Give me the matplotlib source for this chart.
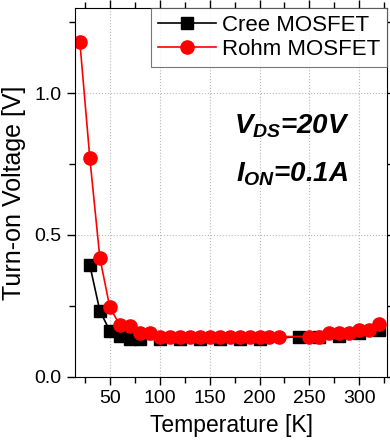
import matplotlib
matplotlib.use('Agg')
from matplotlib import pyplot as plt
from matplotlib.ticker import MultipleLocator

plt.rcParams['font.family'] = ['Liberation Sans', 'DejaVu Sans']
plt.rcParams['mathtext.fontset'] = 'custom'
plt.rcParams['mathtext.it'] = 'Liberation Sans:bold:italic'
plt.rcParams['mathtext.rm'] = 'Liberation Sans:bold'

# Cree MOSFET
cree_T = [30, 40, 50, 60, 70, 80, 100, 120, 140, 160, 180, 200, 240, 260, 280, 300, 320]
cree_V = [0.393, 0.233, 0.162, 0.145, 0.132, 0.132, 0.132, 0.132, 0.132, 0.132, 0.132, 0.132,
          0.142, 0.142, 0.143, 0.155, 0.166]

# Rohm MOSFET
rohm_T = [20, 30, 40, 50, 60, 70, 80, 90, 100, 110, 120, 130, 140, 150, 160, 170, 180, 190,
          200, 210, 220, 250, 260, 270, 280, 290, 300, 310, 320]
rohm_V = [1.18, 0.77, 0.42, 0.245, 0.183, 0.178, 0.155, 0.155, 0.142, 0.142, 0.142, 0.142,
          0.142, 0.142, 0.142, 0.142, 0.142, 0.142, 0.142, 0.142, 0.142, 0.142, 0.142,
          0.156, 0.156, 0.155, 0.166, 0.165, 0.187]


def main():
    fig = plt.figure(figsize=(3.9, 4.47), dpi=100)
    ax = fig.add_axes([0.192, 0.157, 0.801, 0.825])

    ax.plot(cree_T, cree_V, color='black', marker='s', markersize=8.5, lw=1.2,
            label='Cree MOSFET')
    ax.plot(rohm_T, rohm_V, color='red', marker='o', markersize=9.5, lw=1.2,
            label='Rohm MOSFET')

    ax.set_xlim(15, 328)
    ax.set_ylim(0, 1.3)
    ax.xaxis.set_minor_locator(MultipleLocator(25))
    ax.yaxis.set_minor_locator(MultipleLocator(0.25))
    ax.set_xticks([50, 100, 150, 200, 250, 300])
    ax.set_yticks([0.0, 0.5, 1.0])
    ax.set_yticklabels(['0.0', '0.5', '1.0'])

    # Origin-like ticks on all sides
    ax.tick_params(which='both', direction='out', top=True, right=True,
                   labeltop=False, labelright=False, labelsize=14, width=1)
    ax.tick_params(which='major', length=6)
    ax.tick_params(which='minor', length=4)

    ax.grid(True, which='major', color='#b8b8b8', linestyle=':', lw=0.8)

    ax.set_xlabel('Temperature [K]', fontsize=16.5, labelpad=5)
    ax.set_ylabel('Turn-on Voltage [V]', fontsize=18, labelpad=6)

    leg = ax.legend(loc='upper right', fontsize=16, frameon=True, fancybox=False,
                    borderpad=0.3, handlelength=2.6, handletextpad=0.3,
                    labelspacing=0.15, borderaxespad=0)
    leg.get_frame().set_edgecolor('#555555')
    leg.get_frame().set_linewidth(0.8)

    ax.text(0.695, 0.66, r'$V_{DS}$=20V', transform=ax.transAxes,
            fontsize=20, fontweight='bold', fontstyle='italic', ha='center')
    ax.text(0.695, 0.53, r'$I_{ON}$=0.1A', transform=ax.transAxes,
            fontsize=20, fontweight='bold', fontstyle='italic', ha='center')

    fig.savefig('out.png', dpi=100)


if __name__ == '__main__':
    main()
